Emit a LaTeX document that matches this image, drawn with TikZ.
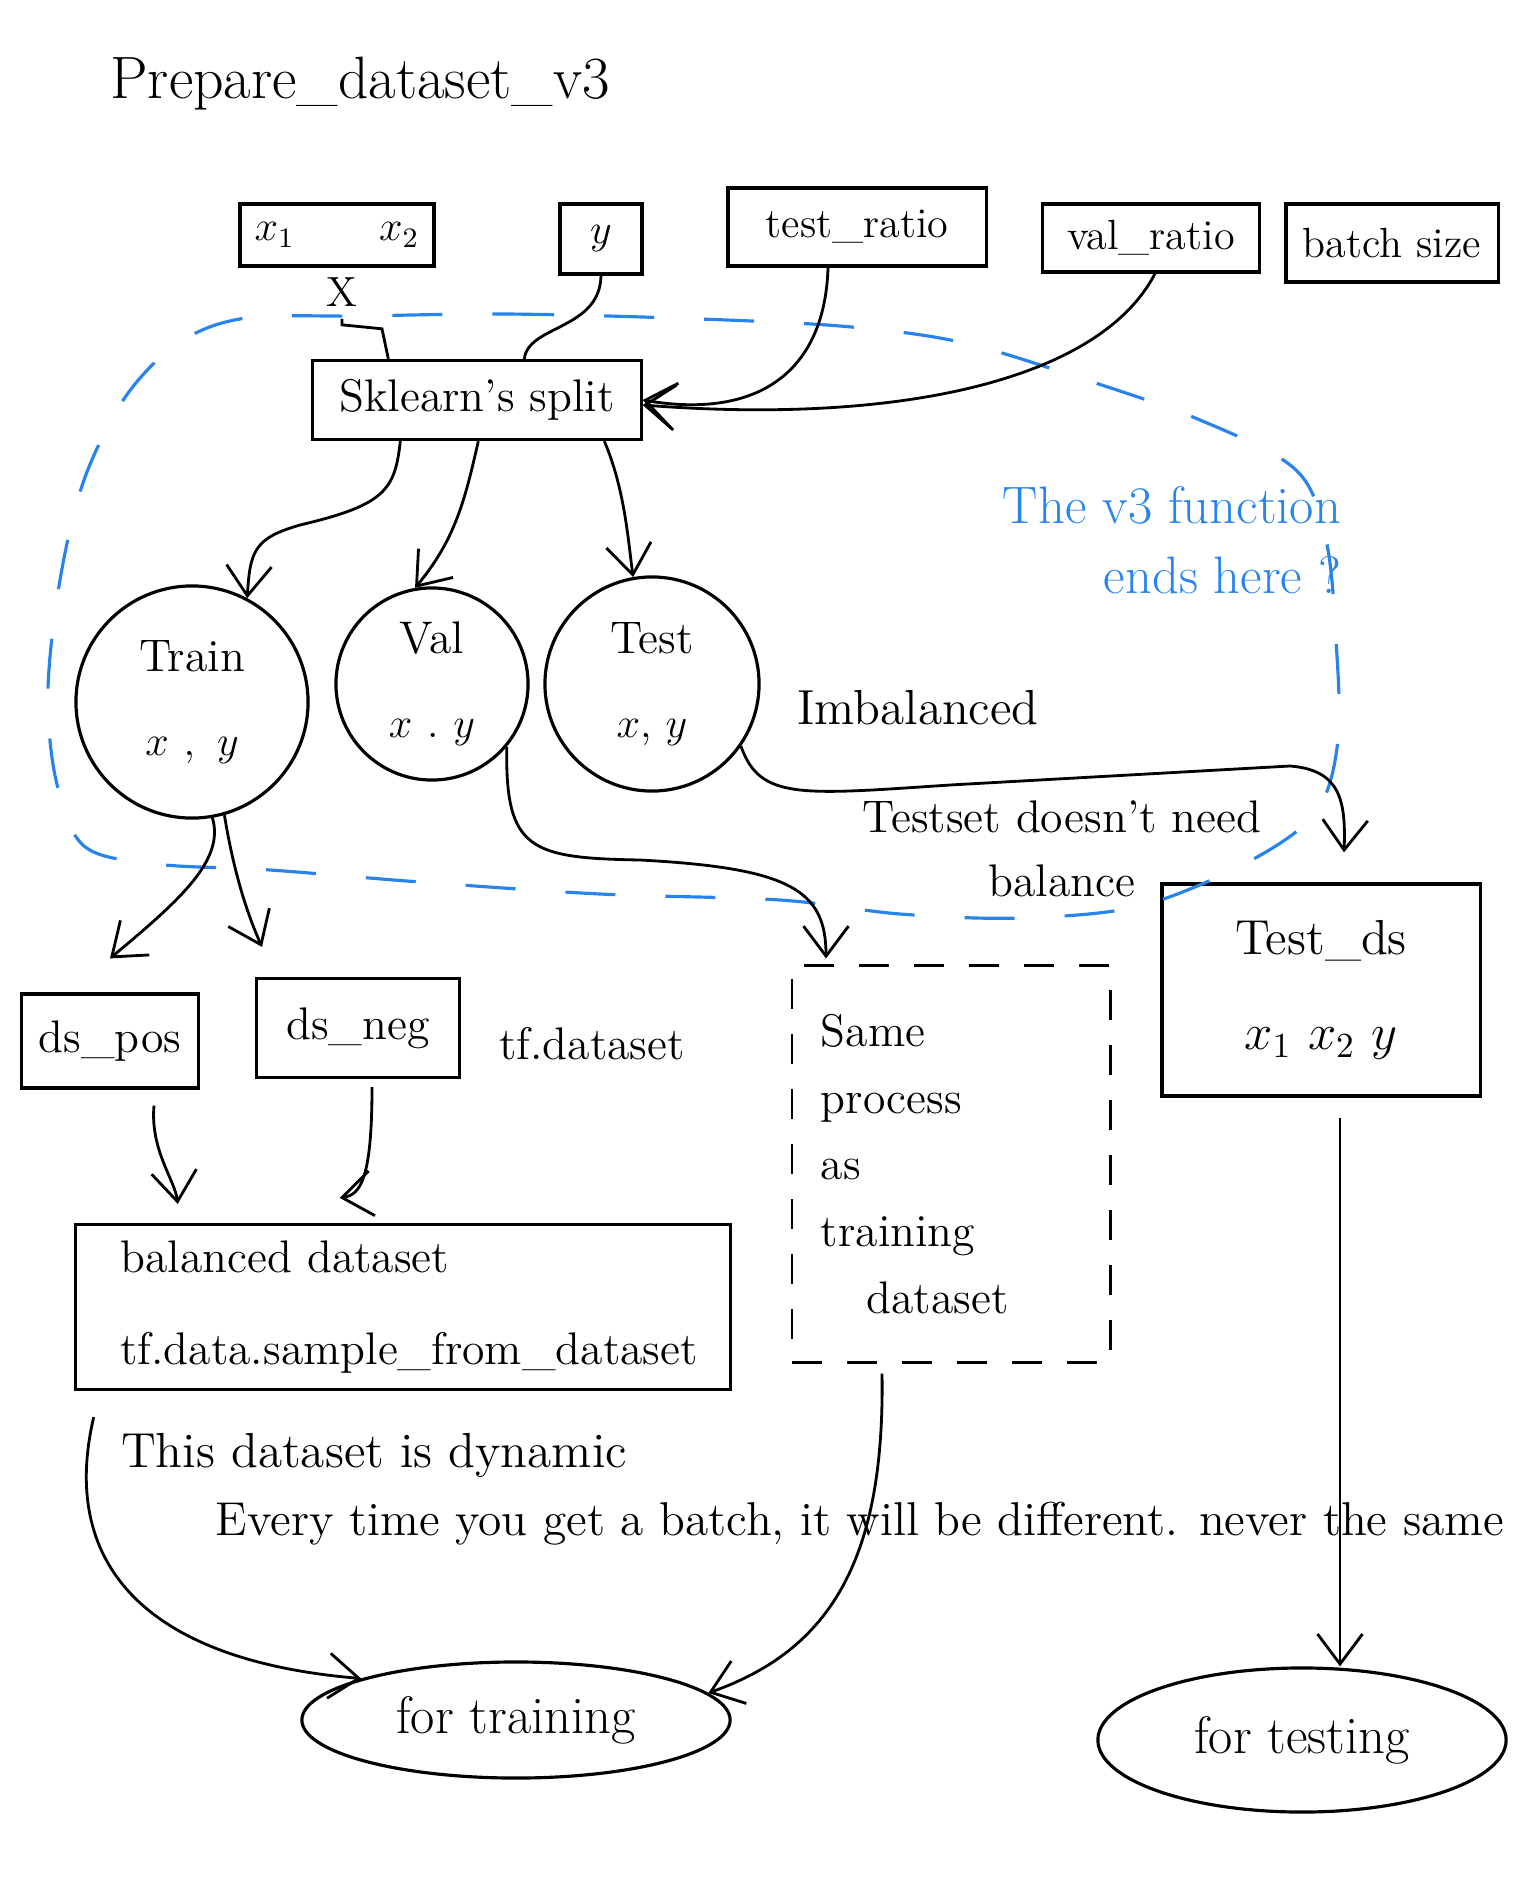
\documentclass[tikz,border=0pt]{standalone}
\usepackage{tikz}
\usetikzlibrary{arrows.meta,positioning,calc,shapes.geometric}

\definecolor{penblue}{RGB}{40,132,236}

\begin{document}
\begin{tikzpicture}[
    x=0.01cm,y=-0.01cm,
    every node/.style={font=\fontsize{12}{15}\selectfont},
    box/.style={draw,line width=0.9pt,align=center,inner sep=2pt},
    blob/.style={draw,circle,line width=0.9pt,align=center,font=\fontsize{13}{16}\selectfont},
    oval/.style={draw,ellipse,line width=0.9pt,font=\fontsize{15}{18}\selectfont},
    ->/.style={-{Straight Barb[length=3mm,width=4.5mm]}},
    pen/.style={line width=0.8pt},
    note/.style={penblue,line width=0.9pt,dash pattern=on 5mm off 5mm},
]
\useasboundingbox (0,0) rectangle (1536,1882);

% Title
\node[font=\fontsize{17}{20}\selectfont] (title) at (360,84) {Prepare\_dataset\_v3};

% Inputs
\node[box,minimum width=1.94cm,minimum height=0.62cm] (xin) at (337,235) {$x_1\qquad x_2$};
\node[box,minimum width=0.82cm,minimum height=0.70cm] (yin) at (601,239) {$y$};
\node[box,minimum width=2.58cm,minimum height=0.78cm] (testr) at (857,227) {test\_ratio};
\node[box,minimum width=2.17cm,minimum height=0.68cm] (valr) at (1151,238) {val\_ratio};
\node[box,minimum width=2.12cm,minimum height=0.78cm] (batch) at (1392,243) {batch size};
\node (xlbl) at (342,292) {X};

% Split
\node[box,minimum width=3.28cm,minimum height=0.79cm,font=\fontsize{13}{16}\selectfont] (split) at (477,400) {Sklearn's split};

% Train / Val / Test
\node[blob,minimum size=2.32cm] (train) at (192,702) {Train\\[8pt]$x\ ,\ y$};
\node[blob,minimum size=1.92cm] (val) at (432,684) {Val\\[8pt]$x\ .\ y$};
\node[blob,minimum size=2.14cm] (test) at (652,684) {Test\\[8pt]$x,\,y$};

\node[font=\fontsize{14}{17}\selectfont] (imb) at (918,708) {Imbalanced};
\node[align=center,font=\fontsize{13}{16}\selectfont] (nobal) at (1062,849) {Testset doesn't need\\[2pt]balance};

% Test set
\node[box,minimum width=3.18cm,minimum height=2.12cm,font=\fontsize{14}{17}\selectfont] (testds) at (1321,990) {Test\_ds\\[10pt]$x_1\ x_2\ y$};

% v3 note
\node[penblue,align=right,font=\fontsize{15}{20}\selectfont] (v3note) at (1172,540) {The v3 function\\ends here ?};

% Training branch
\node[box,minimum width=1.77cm,minimum height=0.94cm,font=\fontsize{13}{16}\selectfont] (ds_pos) at (110,1041) {ds\_pos};
\node[box,minimum width=2.03cm,minimum height=0.99cm,font=\fontsize{13}{16}\selectfont] (ds_neg) at (358,1028) {ds\_neg};
\node[font=\fontsize{13}{16}\selectfont] (tfds) at (592,1044) {tf.dataset};

\node[box,align=left,text width=5.65cm,inner xsep=0.45cm,minimum height=1.65cm,font=\fontsize{13}{16}\selectfont] (balanced) at (403,1307) {balanced dataset\\[10pt]tf.data.sample\_from\_dataset};

% Validation branch
\node[draw,line width=0.8pt,dash pattern=on 3mm off 2.5mm,align=left,text width=2.6cm,inner xsep=0.29cm,minimum height=3.96cm,font=\fontsize{13}{19}\selectfont] (same) at (951,1164) {Same\\process\\as\\training\\\quad dataset};

% Notes
\node[font=\fontsize{14}{17}\selectfont] (dyn) at (374,1455) {This dataset is dynamic};
\node[font=\fontsize{13.5}{16}\selectfont] (dyn2) at (860,1524) {Every time you get a batch, it will be different. never the same};

% Outputs
\node[oval,minimum width=4.28cm,minimum height=1.16cm] (fortrain) at (516,1720) {for training};
\node[oval,minimum width=4.08cm,minimum height=1.44cm] (fortest) at (1302,1740) {for testing};

% Blue boundary
\draw[note] plot[smooth cycle,tension=0.55] coordinates {(360,316) (504,314) (672,318) (840,326) (960,342) (1080,378) (1200,420) (1296,470) (1326,540) (1336,640) (1338,740) (1316,812) (1248,862) (1140,906) (1020,918) (900,914) (780,900) (600,894) (420,882) (270,870) (156,864) (84,846) (56,780) (48,690) (60,580) (84,480) (126,396) (180,342) (246,318)};

% Connections
\draw[pen] (xlbl.south) -- ++(0,6) -- ++(40,4) -- ($(split.north west)+(77,0)$);
\draw[pen] (yin.south) .. controls (600,330) and (528,325) .. ($(split.north west)+(213,0)$);
\draw[pen,->] ($(testr.south)+(-29,0)$) .. controls (825,370) and (760,420) .. (split.east);
\draw[pen,->] ($(valr.south)+(4,0)$) .. controls (1100,380) and (900,425) .. ($(split.east)+(0,5)$);

\draw[pen,->] ($(split.south west)+(89,0)$) .. controls (395,490) and (385,505) .. (300,525) .. controls (255,538) and (250,550) .. (train.62);
\draw[pen,->] ($(split.south west)+(167,0)$) .. controls (465,500) and (455,540) .. (val.100);
\draw[pen,->] ($(split.south west)+(293,0)$) .. controls (625,490) and (628,540) .. (test.100);

\draw[pen,->] (test.-35) .. controls (760,800) and (800,795) .. (950,785) -- (1290,766) .. controls (1340,770) and (1346,800) .. ($(testds.north)+(23,-30)$);
\draw[pen,->] (val.-40) .. controls (505,850) and (530,858) .. (640,860) .. controls (790,868) and (826,890) .. ($(same.north)+(-125,-6)$);

\draw[pen,->] (train.-80) .. controls (225,860) and (180,900) .. ($(ds_pos.north)+(0,-34)$);
\draw[pen,->] (train.-74) .. controls (235,880) and (250,920) .. ($(ds_neg.north)+(-96,-30)$);
\draw[pen,->] ($(ds_pos.south)+(44,16)$) .. controls (150,1150) and (175,1180) .. ($(balanced.north west)+(104,-19)$);
\draw[pen,->] ($(ds_neg.south)+(14,8)$) .. controls (372,1180) and (360,1195) .. ($(balanced.north west)+(266,-25)$);

\draw[pen,->] ($(balanced.south west)+(20,26)$) .. controls (60,1560) and (140,1660) .. (fortrain.165);
\draw[pen,->] ($(same.south)+(-69,10)$) .. controls (885,1560) and (830,1650) .. (fortrain.8);
\draw[pen,->] ($(testds.south)+(19,20)$) -- ($(fortest.north)+(38,0)$);

\end{tikzpicture}
\end{document}
